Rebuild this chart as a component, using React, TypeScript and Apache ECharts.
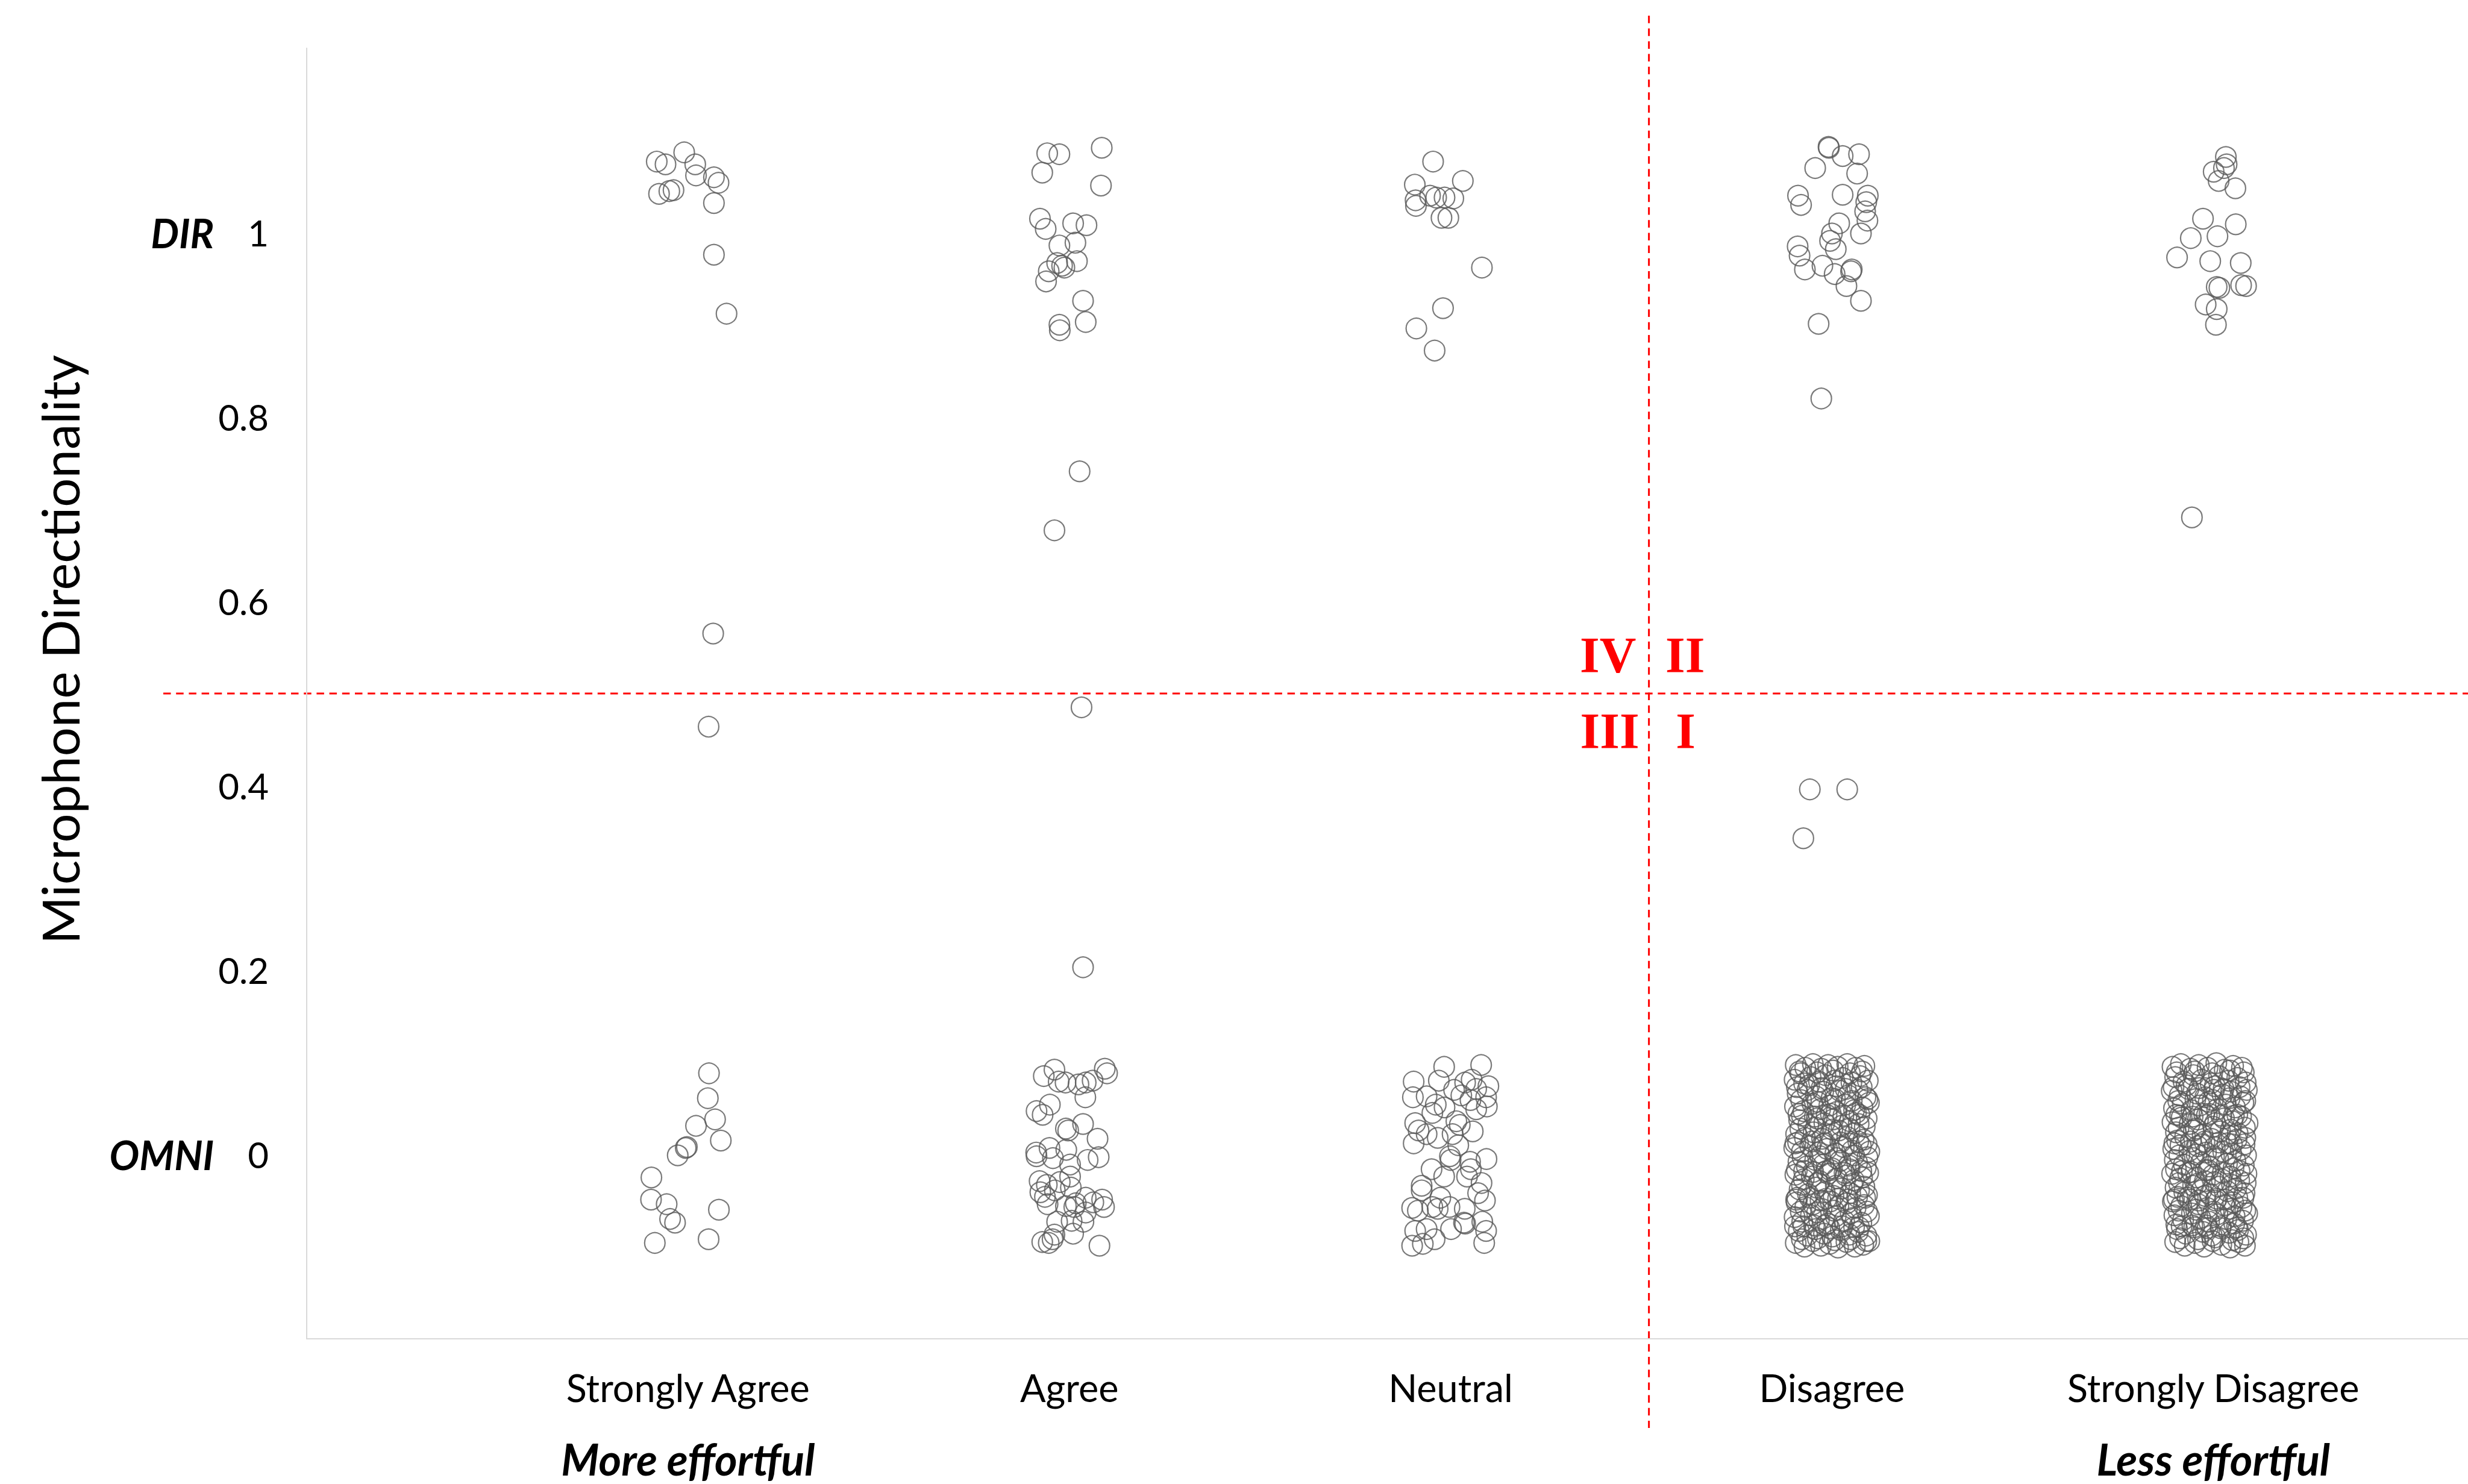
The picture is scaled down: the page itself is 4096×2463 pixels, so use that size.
import React, { useEffect, useRef } from 'react';
import * as echarts from 'echarts';

const W = 4096;
const H = 2463;

const CATEGORY_NAMES = ['Strongly Agree', 'Agree', 'Neutral', 'Disagree', 'Strongly Disagree'];
const SUB_LABELS = ['More effortful', '', '', '', 'Less effortful'];
const Y_NAME = 'Microphone Directionality';
const QUADRANTS = [
  { text: 'IV', dx: -68, dy: -64 },
  { text: 'II', dx: 60, dy: -64 },
  { text: 'III', dx: -65, dy: 62 },
  { text: 'I', dx: 61, dy: 62 },
];
const QUAD_X = 3.52;
const QUAD_Y = 0.5;
const X_MIN = 0;
const X_MAX = 5.668;

// [jittered x, jittered y]
const stronglyAgree = [
  [0.918, 1.077], [0.941, 1.074], [0.990, 1.087], [1.019, 1.074], [1.021, 1.062], [1.068, 1.060],
  [1.080, 1.054], [0.924, 1.042], [0.951, 1.045], [0.962, 1.046], [1.068, 1.032], [1.068, 0.976],
  [1.101, 0.912], [1.066, 0.565], [1.054, 0.464],
  [1.055, 0.088], [1.052, 0.061], [1.071, 0.038], [1.021, 0.031], [1.086, 0.015], [0.994, 0.007],
  [0.997, 0.008], [0.973, -0.001], [0.904, -0.025], [0.903, -0.049], [0.944, -0.054], [0.953, -0.070],
  [0.966, -0.074], [1.081, -0.060], [0.913, -0.096], [1.054, -0.092],
];

const agree = [
  [1.942, 1.086], [1.974, 1.085], [2.085, 1.092], [1.929, 1.065], [2.083, 1.051], [1.923, 1.015],
  [1.938, 1.004], [2.010, 1.010], [2.045, 1.008], [1.974, 0.986], [2.016, 0.989], [2.020, 0.969],
  [1.968, 0.967], [1.981, 0.964], [1.987, 0.962], [1.946, 0.958], [1.939, 0.947], [2.036, 0.926],
  [1.974, 0.900], [1.975, 0.894], [2.043, 0.903],
  [2.027, 0.741], [1.961, 0.677], [2.032, 0.485], [2.036, 0.203],
  [1.933, 0.085], [1.961, 0.092], [1.972, 0.079], [1.990, 0.078], [2.024, 0.076], [2.043, 0.078],
  [2.061, 0.080], [2.093, 0.093], [2.099, 0.088], [2.042, 0.062], [1.914, 0.047], [1.930, 0.043],
  [1.949, 0.054], [1.991, 0.028], [1.997, 0.026], [2.036, 0.033], [2.074, 0.017], [1.913, 0.002],
  [1.914, -0.002], [1.948, 0.007], [1.992, 0.005], [1.957, -0.004], [2.002, -0.011], [2.048, -0.006],
  [2.077, -0.003], [1.922, -0.029], [1.941, -0.033], [1.975, -0.030], [2.002, -0.024], [2.004, -0.036],
  [1.924, -0.041], [1.936, -0.046], [1.962, -0.039], [1.943, -0.054], [1.991, -0.056], [2.013, -0.057],
  [2.017, -0.053], [2.043, -0.047], [2.063, -0.052], [2.086, -0.049], [2.091, -0.057], [2.043, -0.063],
  [1.968, -0.073], [2.006, -0.072], [2.037, -0.073], [2.010, -0.086], [1.961, -0.087], [1.929, -0.095],
  [1.946, -0.096], [2.079, -0.099], [1.956, -0.092],
];

const neutral = [
  [2.954, 1.077], [3.032, 1.056], [2.906, 1.052], [2.908, 1.035], [2.909, 1.029], [2.946, 1.040],
  [2.962, 1.038], [2.984, 1.038], [3.007, 1.037], [2.976, 1.016], [2.994, 1.016], [3.082, 0.962],
  [2.980, 0.918], [2.910, 0.896], [2.958, 0.872],
  [2.983, 0.095], [3.080, 0.097], [2.903, 0.079], [2.969, 0.080], [3.009, 0.070], [3.038, 0.078],
  [3.055, 0.081], [3.067, 0.071], [3.099, 0.074], [2.901, 0.062], [2.937, 0.063], [2.961, 0.054],
  [2.984, 0.051], [3.028, 0.064], [3.052, 0.059], [3.093, 0.062], [3.095, 0.052], [3.067, 0.049],
  [2.952, 0.045], [2.907, 0.034], [3.015, 0.036], [3.024, 0.032], [3.058, 0.025], [2.916, 0.026],
  [2.937, 0.022], [2.966, 0.018], [3.005, 0.022], [3.020, 0.010], [2.903, 0.012], [2.998, -0.002],
  [3.000, -0.006], [3.094, -0.005], [3.051, -0.008], [2.950, -0.016], [2.983, -0.024], [3.043, -0.024],
  [3.053, -0.016], [3.081, -0.031], [2.924, -0.034], [2.924, -0.039], [3.072, -0.042], [3.090, -0.050],
  [2.973, -0.047], [2.899, -0.058], [2.914, -0.061], [2.952, -0.057], [2.966, -0.059], [2.997, -0.057],
  [3.037, -0.059], [3.035, -0.074], [3.038, -0.075], [3.001, -0.081], [3.083, -0.073], [3.093, -0.083],
  [2.907, -0.083], [2.937, -0.081], [2.899, -0.099], [2.927, -0.097], [2.958, -0.092], [3.088, -0.096],
];

const disagree = [
  [3.991, 1.093], [3.992, 1.092], [4.028, 1.083], [4.071, 1.085], [3.956, 1.070], [4.066, 1.064],
  [3.911, 1.040], [3.919, 1.030], [4.028, 1.041], [4.094, 1.040], [4.090, 1.033], [4.087, 1.023],
  [4.093, 1.013], [4.019, 1.010], [4.076, 0.999], [4.000, 0.999], [3.995, 0.991], [4.010, 0.982],
  [3.910, 0.985], [3.915, 0.975], [3.929, 0.960], [3.975, 0.964], [4.007, 0.955], [4.052, 0.960],
  [4.050, 0.958], [4.038, 0.942], [4.076, 0.926], [3.965, 0.901], [3.972, 0.820],
  [3.942, 0.396], [4.040, 0.396], [3.925, 0.343],
  [3.905, 0.097], [3.930, 0.094], [3.950, 0.098], [3.972, 0.093], [3.990, 0.097], [4.015, 0.095],
  [4.040, 0.098], [4.062, 0.094], [4.085, 0.096], [3.918, 0.088],
  [3.902, 0.081], [3.927, 0.077], [3.944, 0.084], [3.966, 0.079], [3.983, 0.086], [4.006, 0.080],
  [4.028, 0.083], [4.051, 0.078], [4.074, 0.085], [4.094, 0.080],
  [3.910, 0.066], [3.936, 0.070], [3.958, 0.063], [3.977, 0.068], [3.999, 0.061], [4.021, 0.069],
  [4.043, 0.064], [4.067, 0.070], [4.088, 0.062],
  [3.903, 0.052], [3.925, 0.047], [3.949, 0.055], [3.969, 0.049], [3.993, 0.053], [4.012, 0.046],
  [4.035, 0.054], [4.058, 0.048], [4.080, 0.051], [4.097, 0.056],
  [3.914, 0.037], [3.938, 0.032], [3.960, 0.039], [3.980, 0.034], [4.003, 0.038], [4.025, 0.031],
  [4.047, 0.036], [4.070, 0.033], [4.091, 0.039],
  [3.906, 0.022], [3.929, 0.018], [3.952, 0.024], [3.974, 0.017], [3.995, 0.021], [4.018, 0.026],
  [4.040, 0.019], [4.061, 0.023], [4.083, 0.016],
  [3.901, 0.007], [3.921, 0.003], [3.943, 0.009], [3.965, 0.002], [3.987, 0.006], [4.009, 0.001],
  [4.031, 0.008], [4.053, 0.004], [4.076, 0.009], [4.098, 0.003],
  [3.912, -0.008], [3.934, -0.013], [3.956, -0.006], [3.978, -0.011], [4.000, -0.015], [4.022, -0.007],
  [4.044, -0.012], [4.066, -0.009], [4.089, -0.014],
  [3.904, -0.022], [3.926, -0.027], [3.947, -0.024], [3.968, -0.029], [3.990, -0.021], [4.013, -0.026],
  [4.036, -0.023], [4.057, -0.028], [4.079, -0.025], [4.095, -0.020],
  [3.915, -0.038], [3.937, -0.043], [3.959, -0.036], [3.981, -0.041], [4.004, -0.045], [4.026, -0.037],
  [4.048, -0.042], [4.071, -0.039], [4.092, -0.044],
  [3.907, -0.052], [3.930, -0.057], [3.951, -0.054], [3.973, -0.059], [3.996, -0.051], [4.017, -0.056],
  [4.039, -0.053], [4.062, -0.058], [4.084, -0.055],
  [3.902, -0.068], [3.922, -0.073], [3.945, -0.066], [3.966, -0.071], [3.988, -0.075], [4.010, -0.067],
  [4.032, -0.072], [4.054, -0.069], [4.077, -0.074], [4.097, -0.067],
  [3.913, -0.083], [3.935, -0.088], [3.957, -0.081], [3.979, -0.086], [4.001, -0.089], [4.023, -0.082],
  [4.046, -0.087], [4.068, -0.084], [4.090, -0.088],
  [3.905, -0.096], [3.928, -0.100], [3.950, -0.094], [3.971, -0.099], [3.994, -0.097], [4.016, -0.101],
  [4.038, -0.095], [4.060, -0.100], [4.082, -0.098], [4.098, -0.094],
  [3.915, 0.090], [3.961, 0.089], [4.003, 0.091], [4.047, 0.088], [4.079, 0.090],
  [3.919, 0.059], [3.962, 0.057], [4.008, 0.060], [4.052, 0.058], [4.093, 0.060],
  [3.912, 0.044], [3.986, 0.043], [4.063, 0.045],
  [3.917, 0.028], [3.958, 0.029], [4.001, 0.027], [4.046, 0.028], [4.086, 0.030],
  [3.911, 0.013], [3.982, 0.012], [4.069, 0.014],
  [3.923, -0.003], [3.969, -0.002], [4.012, -0.004], [4.058, -0.001], [4.093, -0.003],
  [3.908, -0.017], [3.985, -0.018], [4.046, -0.016],
  [3.921, -0.033], [3.964, -0.031], [4.010, -0.034], [4.053, -0.032], [4.085, -0.035],
  [3.909, -0.047], [3.985, -0.048], [4.066, -0.046],
  [3.918, -0.062], [3.961, -0.063], [4.005, -0.061], [4.049, -0.064], [4.092, -0.062],
  [3.903, -0.078], [3.982, -0.077], [4.058, -0.079],
  [3.921, -0.092], [3.963, -0.091], [4.007, -0.093], [4.049, -0.092], [4.090, -0.094],
  [3.908, 0.073], [3.940, 0.075], [3.973, 0.072], [4.011, 0.074], [4.036, 0.071], [4.078, 0.073],
  [3.921, 0.042], [3.955, 0.041], [3.997, 0.044], [4.030, 0.042], [4.072, 0.043],
  [3.904, 0.012], [3.947, 0.014], [3.976, 0.011], [4.022, 0.013], [4.044, 0.012], [4.091, 0.011],
  [3.927, -0.018], [3.951, -0.019], [3.996, -0.017], [4.033, -0.020], [4.077, -0.018],
  [3.906, -0.049], [3.942, -0.047], [3.970, -0.050], [4.016, -0.048], [4.041, -0.049], [4.087, -0.047],
  [3.925, -0.078], [3.953, -0.077], [3.993, -0.080], [4.028, -0.078], [4.071, -0.079],
];

const stronglyDisagree = [
  [5.033, 1.082], [5.035, 1.074], [5.028, 1.070], [5.001, 1.066], [5.014, 1.056], [5.058, 1.048],
  [4.973, 1.015], [5.059, 1.009], [4.941, 0.994], [5.011, 0.996], [4.905, 0.973], [4.992, 0.969],
  [5.072, 0.967], [5.009, 0.941], [5.016, 0.940], [5.073, 0.943], [5.086, 0.942], [4.980, 0.922],
  [5.009, 0.917], [5.007, 0.900],
  [4.944, 0.691],
  [4.893, 0.095], [4.915, 0.098], [4.940, 0.093], [4.962, 0.097], [4.985, 0.094], [5.008, 0.099],
  [5.030, 0.092], [5.052, 0.096], [5.075, 0.094],
  [4.900, 0.084], [4.922, 0.079], [4.948, 0.086], [4.970, 0.081], [4.993, 0.077], [5.015, 0.085],
  [5.040, 0.080], [5.063, 0.083], [5.085, 0.078],
  [4.891, 0.069], [4.912, 0.064], [4.935, 0.071], [4.957, 0.066], [4.979, 0.062], [5.002, 0.070],
  [5.024, 0.065], [5.047, 0.068], [5.071, 0.063], [5.088, 0.070],
  [4.897, 0.050], [4.920, 0.055], [4.943, 0.048], [4.965, 0.053], [4.988, 0.057], [5.010, 0.049],
  [5.033, 0.054], [5.057, 0.051], [5.079, 0.056],
  [4.893, 0.035], [4.917, 0.040], [4.938, 0.033], [4.960, 0.038], [4.983, 0.042], [5.005, 0.034],
  [5.028, 0.039], [5.050, 0.036], [5.073, 0.041], [5.090, 0.034],
  [4.902, 0.024], [4.926, 0.019], [4.949, 0.026], [4.972, 0.021], [4.995, 0.017], [5.018, 0.025],
  [5.041, 0.020], [5.064, 0.023], [5.084, 0.018],
  [4.895, 0.006], [4.914, 0.010], [4.937, 0.004], [4.959, 0.009], [4.981, 0.002], [5.004, 0.008],
  [5.026, 0.003], [5.049, 0.011], [5.072, 0.005],
  [4.899, -0.006], [4.923, -0.011], [4.946, -0.004], [4.968, -0.009], [4.990, -0.013], [5.013, -0.005],
  [5.036, -0.010], [5.058, -0.007], [5.080, -0.012],
  [4.892, -0.021], [4.913, -0.026], [4.934, -0.020], [4.956, -0.025], [4.978, -0.029], [5.000, -0.022],
  [5.022, -0.027], [5.045, -0.024], [5.068, -0.028], [5.087, -0.021],
  [4.901, -0.036], [4.924, -0.041], [4.947, -0.034], [4.969, -0.039], [4.992, -0.043], [5.014, -0.035],
  [5.037, -0.040], [5.060, -0.037], [5.082, -0.042],
  [4.894, -0.051], [4.916, -0.056], [4.939, -0.049], [4.961, -0.054], [4.984, -0.058], [5.006, -0.050],
  [5.029, -0.055], [5.052, -0.052], [5.074, -0.057],
  [4.898, -0.066], [4.921, -0.071], [4.944, -0.064], [4.966, -0.069], [4.989, -0.073], [5.011, -0.065],
  [5.034, -0.070], [5.056, -0.067], [5.078, -0.072], [5.089, -0.064],
  [4.905, -0.081], [4.928, -0.086], [4.950, -0.079], [4.973, -0.084], [4.996, -0.088], [5.019, -0.080],
  [5.042, -0.085], [5.065, -0.082], [5.086, -0.087],
  [4.900, -0.095], [4.925, -0.099], [4.952, -0.096], [4.976, -0.100], [4.998, -0.094], [5.021, -0.098],
  [5.044, -0.101], [5.066, -0.095], [5.083, -0.099],
  [4.904, 0.089], [4.951, 0.090], [4.997, 0.088], [5.044, 0.091], [5.080, 0.089],
  [4.908, 0.058], [4.953, 0.060], [4.999, 0.059], [5.043, 0.061], [5.084, 0.058],
  [4.903, 0.043], [4.976, 0.044], [5.054, 0.042],
  [4.909, 0.029], [4.954, 0.028], [5.000, 0.030], [5.046, 0.027], [5.083, 0.029],
  [4.905, 0.015], [4.977, 0.014], [5.061, 0.016],
  [4.911, -0.001], [4.956, 0.000], [5.002, -0.002], [5.047, 0.001], [5.086, -0.001],
  [4.902, -0.016], [4.980, -0.017], [5.053, -0.015],
  [4.910, -0.031], [4.957, -0.032], [5.003, -0.030], [5.049, -0.033], [5.085, -0.031],
  [4.906, -0.046], [4.978, -0.045], [5.063, -0.047],
  [4.909, -0.061], [4.955, -0.060], [5.001, -0.062], [5.045, -0.059], [5.084, -0.061],
  [4.903, -0.076], [4.981, -0.077], [5.055, -0.075],
  [4.913, -0.091], [4.960, -0.092], [5.005, -0.090], [5.050, -0.093], [5.079, -0.091],
  [4.896, 0.073], [4.930, 0.075], [4.964, 0.072], [5.004, 0.074], [5.027, 0.071], [5.069, 0.073],
  [4.913, 0.042], [4.946, 0.041], [4.990, 0.044], [5.021, 0.042], [5.063, 0.043],
  [4.898, 0.012], [4.941, 0.014], [4.969, 0.011], [5.015, 0.013], [5.037, 0.012], [5.082, 0.011],
  [4.918, -0.018], [4.943, -0.019], [4.987, -0.017], [5.025, -0.020], [5.069, -0.018],
  [4.897, -0.049], [4.933, -0.047], [4.962, -0.050], [5.009, -0.048], [5.032, -0.049], [5.079, -0.047],
  [4.917, -0.078], [4.945, -0.077], [4.985, -0.080], [5.020, -0.078], [5.062, -0.079],
];

const GROUPS = [stronglyAgree, agree, neutral, disagree, stronglyDisagree];

const FONT = 'Lato';

export default function App() {
  const ref = useRef<HTMLDivElement>(null);

  useEffect(() => {
    document.body.style.margin = '0';
    const chart = echarts.init(ref.current as HTMLDivElement, null, { renderer: 'svg', width: W, height: H });
    const option: any = {
      animation: false,
      backgroundColor: '#ffffff',
      grid: { left: 509, right: 0, top: 80, bottom: 241 },
      xAxis: {
        type: 'value',
        min: X_MIN,
        max: X_MAX,
        interval: 1,
        splitLine: { show: false },
        axisTick: { show: false },
        axisLine: { show: true, onZero: false, lineStyle: { color: '#d9d9d9', width: 2 } },
        axisLabel: {
          margin: 0,
          showMaxLabel: false,
          formatter: (v: number) => {
            const r = Math.round(v);
            if (Math.abs(v - r) > 1e-6 || r < 1 || r > 5) return '';
            const name = CATEGORY_NAMES[r - 1];
            const sub = SUB_LABELS[r - 1];
            return sub ? `{n|${name}}\n{b|${sub}}` : `{n|${name}}`;
          },
          rich: {
            n: { fontFamily: FONT, fontSize: 63, color: '#000', lineHeight: 160 },
            b: { fontFamily: FONT, fontSize: 72, fontWeight: 'bold', fontStyle: 'italic', color: '#000', lineHeight: 78 },
          },
        },
      },
      yAxis: {
        type: 'value',
        min: -0.2,
        max: 1.2,
        interval: 0.2,
        splitLine: { show: false },
        axisTick: { show: false },
        axisLine: { show: true, onZero: false, lineStyle: { color: '#d9d9d9', width: 2 } },
        axisLabel: {
          margin: 63,
          formatter: (v: number) => {
            if (v < -0.1 || v > 1.1) return '';
            const t = String(Math.round(v * 10) / 10);
            if (Math.abs(v - 1) < 1e-6) return `{b|DIR}{s| }{n|${t}}`;
            if (Math.abs(v) < 1e-6) return `{b|OMNI}{s| }{n|${t}}`;
            return `{n|${t}}`;
          },
          rich: {
            n: { fontFamily: FONT, fontSize: 60, color: '#000' },
            b: { fontFamily: FONT, fontSize: 66, fontWeight: 'bold', fontStyle: 'italic', color: '#000' },
            s: { width: 56, fontSize: 60 },
          },
        },
      },
      series: GROUPS.map((g, i) => ({
        name: CATEGORY_NAMES[i],
        type: 'scatter',
        data: g,
        symbol: 'circle',
        symbolSize: 34,
        silent: true,
        itemStyle: { color: 'rgba(0,0,0,0)', borderColor: '#595959', borderWidth: 2.2 },
      })),
    };
    chart.setOption(option);

    const p = chart.convertToPixel({ xAxisIndex: 0, yAxisIndex: 0 }, [QUAD_X, QUAD_Y]) as number[];
    const cx = p[0];
    const cy = p[1];
    const red = '#ff0000';
    const graphic: any[] = [
      {
        type: 'text',
        x: 99,
        y: 1078,
        rotation: Math.PI / 2,
        style: { text: Y_NAME, fontFamily: FONT, fontSize: 85, fill: '#000', align: 'center', verticalAlign: 'middle' },
      },
      {
        type: 'line',
        shape: { x1: cx, y1: 26, x2: cx, y2: 2370 },
        style: { stroke: red, lineWidth: 3, lineDash: [12.5, 8.7] },
      },
      {
        type: 'line',
        shape: { x1: 271, y1: cy, x2: W, y2: cy },
        style: { stroke: red, lineWidth: 3, lineDash: [12.5, 8.7] },
      },
      ...QUADRANTS.map((q) => ({
        type: 'text',
        x: cx + q.dx,
        y: cy + q.dy,
        style: {
          text: q.text,
          fontFamily: '"Liberation Serif", "Times New Roman", serif',
          fontWeight: 'bold',
          fontSize: 84,
          fill: red,
          align: 'center',
          verticalAlign: 'middle',
        },
      })),
    ];
    chart.setOption({ graphic });

    return () => chart.dispose();
  }, []);

  return <div ref={ref} style={{ width: W, height: H }} />;
}
